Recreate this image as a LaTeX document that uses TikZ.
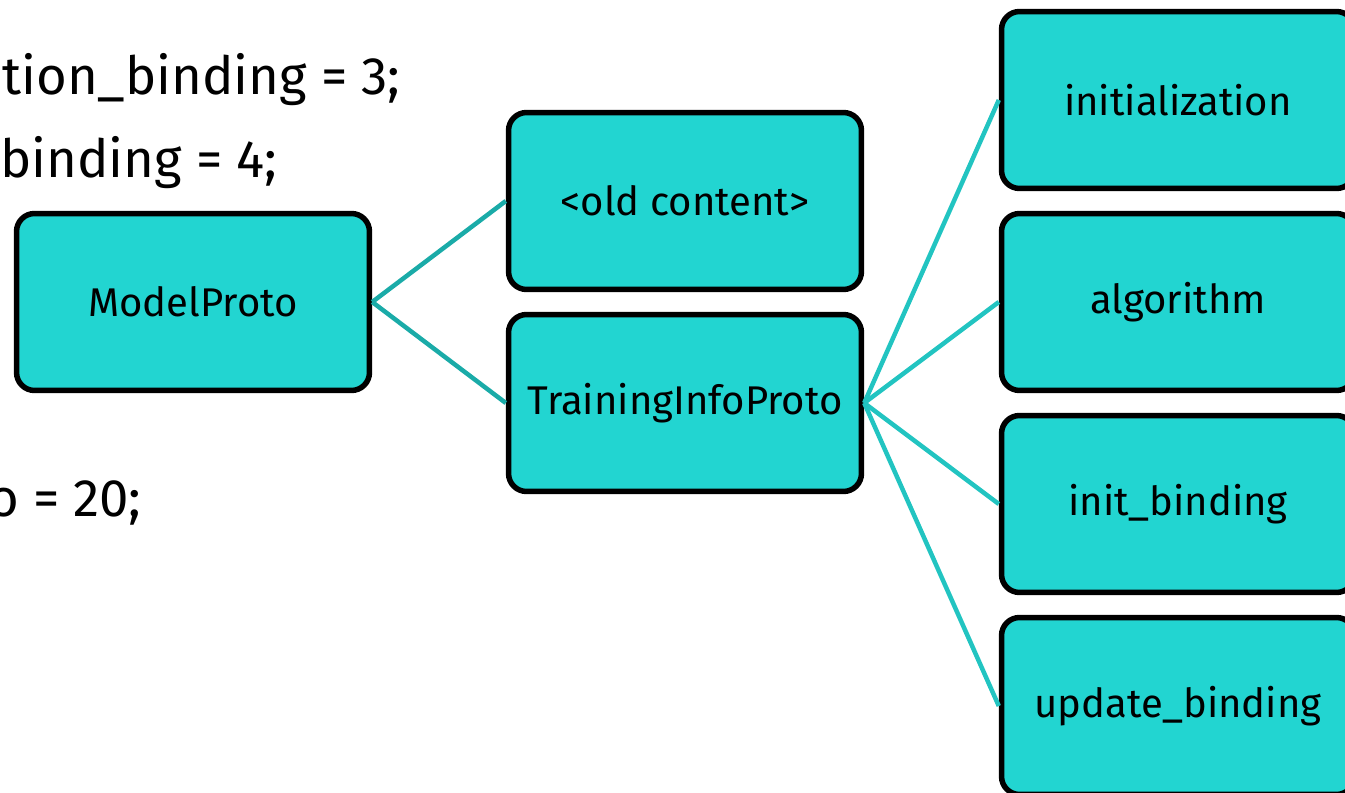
\documentclass[tikz,border=0pt]{standalone}
\usepackage{fontspec}
\setmainfont{Fira Sans}
\usepackage{tikz}
\usetikzlibrary{positioning}

\definecolor{boxfill}{HTML}{22D5D1}
\definecolor{linkdark}{HTML}{1AABA8}
\definecolor{linklight}{HTML}{22C4C1}

\begin{document}
\begin{tikzpicture}[x=0.02cm,y=-0.02cm]
\useasboundingbox (0,0) rectangle (1345,793);
\clip (0,0) rectangle (1345,793);
\begin{scope}[every node/.style={anchor=base west,inner sep=0pt,font=\fontsize{30}{32}\selectfont}]
    \node (L1) at (2,95) {tion\_binding = 3;};
    \node (L2) at (0,178) {binding = 4;};
    \node (L3) at (-12,517) {o = 20;};
\end{scope}
\begin{scope}[every node/.style={rectangle,rounded corners=0.36cm,line width=0.11cm,draw=black,fill=boxfill,
              minimum width=7.06cm,minimum height=3.54cm,font=\fontsize{22.8}{26}\selectfont}]
    \node (M) at (193,302) {ModelProto};
    \node (O) at (685,201) {<old content>};
    \node (T) at (685,403) {TrainingInfoProto};
    \node (R1) at (1178,100) {initialization};
    \node (R2) at (1178,302) {algorithm};
    \node (R3) at (1178,504) {init\_binding};
    \node (R4) at (1178,706) {update\_binding};
\end{scope}
\begin{scope}[every edge/.style={draw=linkdark,line width=0.09cm}]
    \path (M.east) edge (O.west);
    \path (M.east) edge (T.west);
\end{scope}
\begin{scope}[every edge/.style={draw=linklight,line width=0.09cm}]
    \path (T.east) edge (R1.west);
    \path (T.east) edge (R2.west);
    \path (T.east) edge (R3.west);
    \path (T.east) edge (R4.west);
\end{scope}
\end{tikzpicture}
\end{document}
